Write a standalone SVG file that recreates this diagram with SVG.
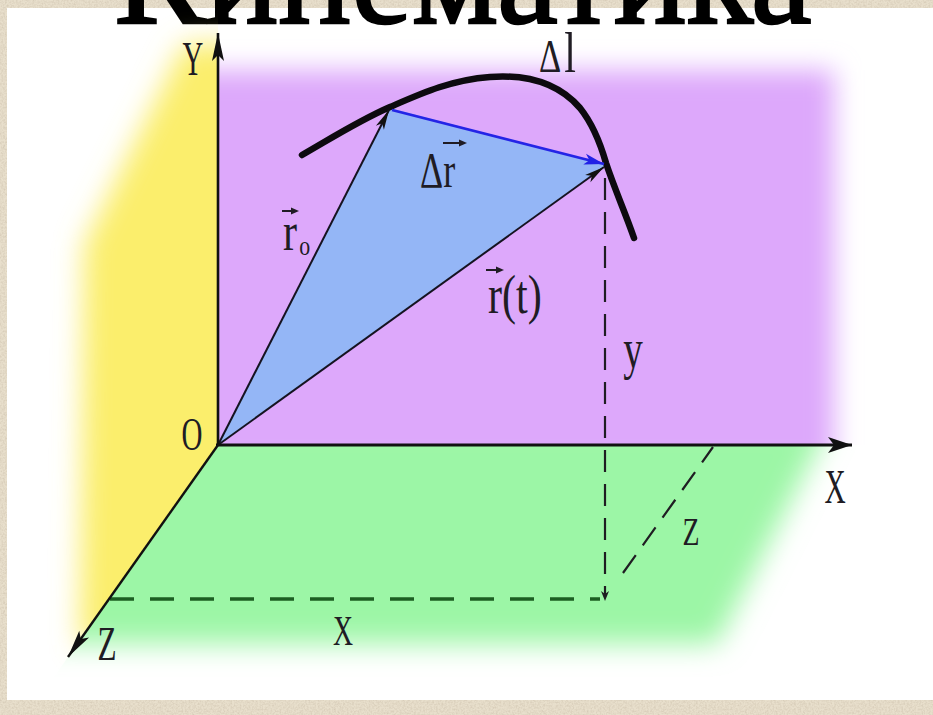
<svg xmlns="http://www.w3.org/2000/svg" width="933" height="715" viewBox="0 0 933 715">
  <style>
    .lbl { font-family: "Liberation Serif", "Times New Roman", serif; fill: #201c24; }
    .ax { stroke: #111; fill: none; }
    .vec { stroke: #151320; stroke-width: 2; fill: none; }
    .dash { stroke: #1f1d22; stroke-width: 2.2; stroke-dasharray: 22 12; fill: none; }
  </style>
  <defs>
    <filter id="noise" filterUnits="userSpaceOnUse" x="0" y="0" width="933" height="715">
      <feTurbulence type="fractalNoise" baseFrequency="0.55" numOctaves="2" seed="4"/>
      <feColorMatrix type="matrix" values="0 0 0 0 0.55  0 0 0 0 0.47  0 0 0 0 0.36  0.9 0 0 0 -0.32"/>
    </filter>
    <filter id="blurP" filterUnits="userSpaceOnUse" x="0" y="0" width="933" height="715">
      <feGaussianBlur stdDeviation="13"/>
    </filter>
    <filter id="blurY" filterUnits="userSpaceOnUse" x="0" y="0" width="933" height="715">
      <feGaussianBlur stdDeviation="14"/>
    </filter>
    <filter id="blurG" filterUnits="userSpaceOnUse" x="0" y="0" width="933" height="715">
      <feGaussianBlur stdDeviation="14"/>
    </filter>
    <clipPath id="clipP"><rect x="218" y="0" width="715" height="445"/></clipPath>
    <clipPath id="clipY"><polygon points="0,0 218,0 218,445 27,715 0,715"/></clipPath>
    <clipPath id="clipG"><polygon points="218,445 933,445 933,715 27,715"/></clipPath>
    <marker id="ahK" viewBox="-22 -6 24 12" refX="0" refY="0" markerWidth="24" markerHeight="12" orient="auto" markerUnits="userSpaceOnUse">
      <path d="M0,0 L-20,-4.5 L-15,0 L-20,4.5 Z" fill="#111"/>
    </marker>
    <marker id="ahB" viewBox="-22 -7 24 14" refX="0" refY="0" markerWidth="24" markerHeight="14" orient="auto" markerUnits="userSpaceOnUse">
      <path d="M0,0 L-20,-5.5 L-15,0 L-20,5.5 Z" fill="#2222e6"/>
    </marker>
    <marker id="ahX" viewBox="-26 -9 28 18" refX="0" refY="0" markerWidth="28" markerHeight="18" orient="auto" markerUnits="userSpaceOnUse">
      <path d="M0,0 L-24,-8 L-18,0 L-24,8 Z" fill="#111"/>
    </marker>
    <marker id="ahY" viewBox="-30 -7 32 14" refX="0" refY="0" markerWidth="32" markerHeight="14" orient="auto" markerUnits="userSpaceOnUse">
      <path d="M0,0 L-28,-6 L-22,0 L-28,6 Z" fill="#111"/>
    </marker>
  </defs>

  <g id="background">
    <rect x="0" y="0" width="933" height="715" fill="#e8dfcc"/>
    <rect x="0" y="0" width="933" height="715" filter="url(#noise)"/>
    <rect x="7" y="8" width="926" height="692" fill="#ffffff"/>
  </g>

  <g id="title">
    <text x="463" y="23" font-family="Liberation Serif, Times New Roman, serif" font-size="135" text-anchor="middle" textLength="697" lengthAdjust="spacingAndGlyphs" fill="#000" stroke="#000" stroke-width="2.5">Кинематика</text>
  </g>

  <g id="planes">
    <g id="plane-yz" clip-path="url(#clipY)">
      <polygon points="260,44 184,44 84,245 80,645 260,645" fill="#fbee6c" filter="url(#blurY)"/>
    </g>
    <g id="plane-xy" clip-path="url(#clipP)">
      <rect x="190" y="70" width="644" height="400" fill="#dda8fb" filter="url(#blurP)"/>
    </g>
    <g id="plane-xz" clip-path="url(#clipG)">
      <polygon points="150,420 832,420 717,644 40,644" fill="#9cf6a6" filter="url(#blurG)"/>
    </g>
  </g>

  <g id="triangle">
    <polygon points="218,445 390,108 606,165" fill="#94b6f6"/>
  </g>

  <g id="trajectory">
    <path d="M302,155 C335,136 360,120 390,107 C420,94 450,80 490,77 C530,74 560,85 580,108 C592,123 600,142 606,163 C615,190 625,212 634,238" stroke="#0d0a0f" stroke-width="6.5" fill="none" stroke-linecap="round"/>
  </g>

  <g id="connectors">
    <line id="dash-y" class="dash" x1="605" y1="178" x2="605" y2="596"/>
    <path d="M605,601 L601,591 L605,594 L609,591 Z" fill="#1f1d22"/>
    <line id="dash-x" x1="110" y1="599" x2="600" y2="599" stroke="#1c5e22" stroke-width="3.5" stroke-dasharray="24 16" fill="none"/>
    <line id="dash-z" class="dash" x1="623" y1="573" x2="713" y2="447" stroke-dasharray="20 12"/>
    <line id="vec-r0" class="vec" x1="218" y1="445" x2="389" y2="110" marker-end="url(#ahK)"/>
    <line id="vec-rt" class="vec" x1="218" y1="445" x2="604" y2="167" marker-end="url(#ahK)"/>
    <line id="vec-dr" x1="392" y1="110" x2="604" y2="164" stroke="#2424e6" stroke-width="2.6" marker-end="url(#ahB)"/>
  </g>

  <g id="axes">
    <line id="axis-y" class="ax" x1="218" y1="446" x2="218" y2="33" stroke-width="2.6" marker-end="url(#ahY)"/>
    <line id="axis-x" class="ax" x1="216" y1="445" x2="852" y2="445" stroke-width="3.2" marker-end="url(#ahX)"/>
    <line id="axis-z" class="ax" x1="218" y1="445" x2="68" y2="657" stroke-width="2.4" marker-end="url(#ahY)"/>
  </g>

  <g id="labels">
    <text class="lbl" transform="translate(193,75) scale(0.6,1)" font-size="48" text-anchor="middle">Y</text>
    <text class="lbl" transform="translate(192,450) scale(0.63,1)" font-size="46" text-anchor="middle">O</text>
    <text class="lbl" transform="translate(835,503) scale(0.6,1)" font-size="49" text-anchor="middle">X</text>
    <text class="lbl" transform="translate(691,545) scale(0.68,1)" font-size="41" text-anchor="middle">Z</text>
    <text class="lbl" transform="translate(107,660) scale(0.65,1)" font-size="48" text-anchor="middle">Z</text>
    <text class="lbl" transform="translate(343,645) scale(0.66,1)" font-size="42" text-anchor="middle">X</text>
    <text class="lbl" transform="translate(633,368) scale(0.7,1)" font-size="56" text-anchor="middle">y</text>
    <g id="label-dl">
      <text class="lbl" transform="translate(539,72) scale(0.75,1)" font-size="46">Δ<tspan font-size="56" dx="4">l</tspan></text>
    </g>
    <g id="label-dr">
      <text class="lbl" transform="translate(420,187) scale(0.72,1)" font-size="50">Δr</text>
      <line x1="443" y1="143" x2="461" y2="143" stroke="#201c24" stroke-width="2"/>
      <path d="M467,143 L459,139.5 L459,146.5 Z" fill="#201c24"/>
    </g>
    <g id="label-r0">
      <text class="lbl" transform="translate(283,250) scale(0.78,1)" font-size="54">r<tspan font-size="28" dx="3" dy="5">o</tspan></text>
      <line x1="282" y1="211" x2="293" y2="211" stroke="#201c24" stroke-width="2"/>
      <path d="M299,211 L291,207.5 L291,214.5 Z" fill="#201c24"/>
    </g>
    <g id="label-rt">
      <text class="lbl" transform="translate(488,313) scale(0.78,1)" font-size="54">r(t)</text>
      <line x1="486" y1="270" x2="498" y2="270" stroke="#201c24" stroke-width="2"/>
      <path d="M504,270 L496,266.5 L496,273.5 Z" fill="#201c24"/>
    </g>
  </g>
</svg>
